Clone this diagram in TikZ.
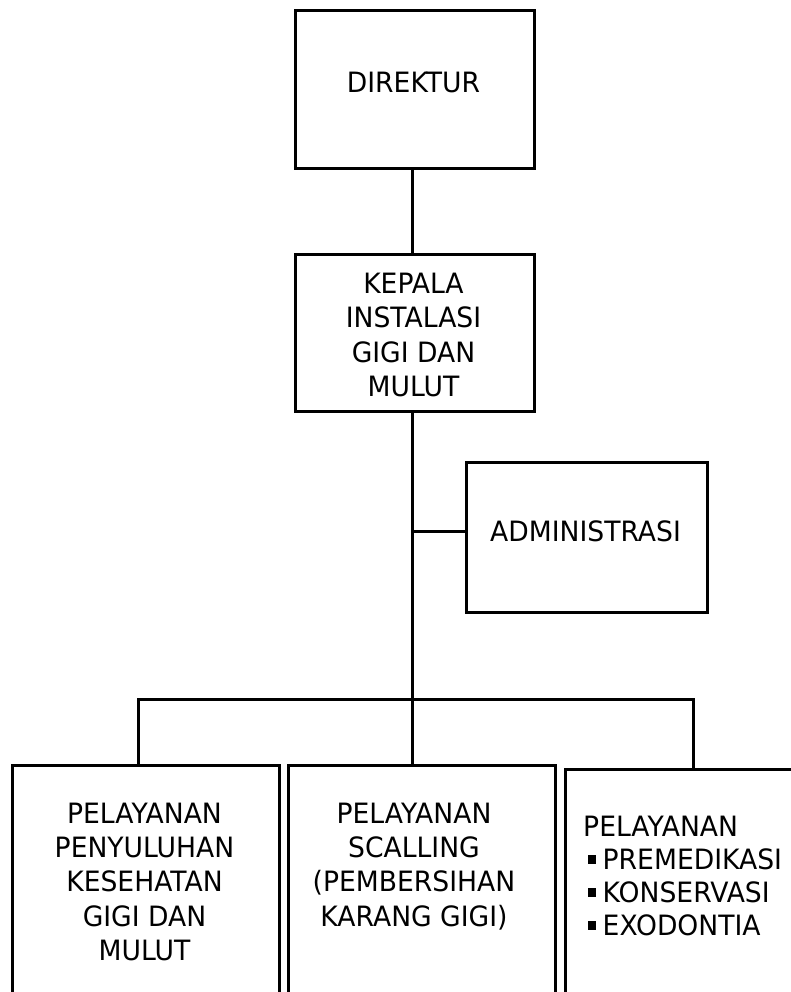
\documentclass[tikz,border=0pt]{standalone}
\usepackage{fontspec}
\setmainfont{DejaVu Sans}[FakeStretch=0.95]
\begin{document}
\begin{tikzpicture}[x=1pt,y=-1pt,
  unit/.style={draw=black,line width=2.7pt,rectangle,inner sep=0pt,anchor=north west},
  caption/.style={inner sep=0pt,align=center,font=\fontsize{28}{34.3}\selectfont},
  wire/.style={draw=black,line width=3pt,line join=miter}]
  \newcommand{\sqbullet}{\makebox[19.5pt][l]{\hspace{4.5pt}\raisebox{6pt}{\rule{8.5pt}{8.5pt}}}}
  \path[use as bounding box,clip] (0,0) rectangle (791,992);

  % boxes
  \node[unit,minimum width=239pt,minimum height=158pt] (dir) at (294,9) {};
  \node[unit,minimum width=239pt,minimum height=157pt] (kep) at (294,253) {};
  \node[unit,minimum width=241pt,minimum height=150pt] (adm) at (465,461) {};
  \node[unit,minimum width=267pt,minimum height=260pt] (b1) at (11,764) {};
  \node[unit,minimum width=267pt,minimum height=260pt] (b2) at (287,764) {};
  \node[unit,minimum width=260pt,minimum height=260pt] (b3) at (564,768) {};

  % texts
  \node[caption,anchor=north] (tdir) at (413.5,71.5) {DIREKTUR};
  \node[caption,anchor=north] (tkep) at (413.5,273) {KEPALA\\INSTALASI\\GIGI DAN\\MULUT};
  \node[caption,anchor=north] (tadm) at (585.5,521) {ADMINISTRASI};
  \node[caption,anchor=north] (tb1) at (144.5,802.5) {PELAYANAN\\PENYULUHAN\\KESEHATAN\\GIGI DAN\\MULUT};
  \node[caption,anchor=north] (tb2) at (414,802.5) {PELAYANAN\\SCALLING\\(PEMBERSIHAN\\KARANG GIGI)};
  \node[caption,align=left,anchor=north west,font=\fontsize{28}{33}\selectfont] (tb3) at (583,816)
    {PELAYANAN\\\sqbullet PREMEDIKASI\\\sqbullet KONSERVASI\\\sqbullet EXODONTIA};

  % junction points
  \coordinate (barL) at (138,699);
  \coordinate (barM) at (412,699);
  \coordinate (barR) at (693,699);
  \coordinate (admj) at (412,531);

  % connectors
  \draw[wire] (dir.south -| barM) -- (kep.north -| barM);
  \draw[wire] (kep.south -| barM) -- (barM);
  \draw[wire] (admj) -- (admj -| adm.west);
  \draw[wire] (barL |- b1.north) -- (barL) -- (barR) -- (barR |- b3.north);
  \draw[wire] (barM) -- (barM |- b2.north);
\end{tikzpicture}
\end{document}
